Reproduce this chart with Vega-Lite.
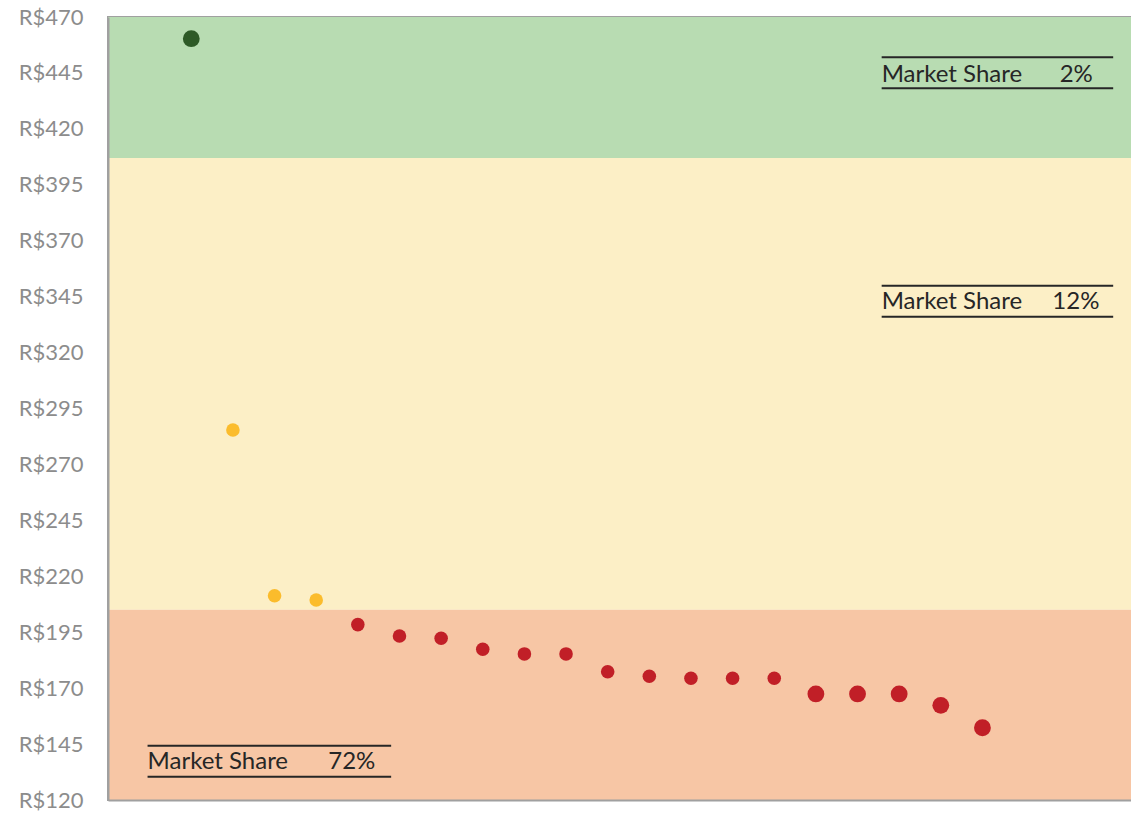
{
  "$schema": "https://vega.github.io/schema/vega-lite/v6.json",
  "width": 1041,
  "height": 783,
  "autosize": {"type": "none"},
  "padding": {"left": 108, "top": 17, "right": 0, "bottom": 13},
  "background": "white",
  "config": {
    "view": {"stroke": "#a0a0a0", "strokeWidth": 2},
    "axisY": {"grid": false, "ticks": false, "tickSize": 0, "domain": true, "domainColor": "#a0a0a0", "domainWidth": 2, "labelFont": "Lato", "labelFontSize": 22, "labelColor": "#8c8c8c", "labelPadding": 25},
    "axisX": {"grid": false, "ticks": false, "tickSize": 0, "labels": false, "domain": true, "domainColor": "#a0a0a0", "domainWidth": 2}
  },
  "datasets": {
    "faixas": [
      {"faixa": "alta", "de": 407, "ate": 470},
      {"faixa": "media", "de": 205, "ate": 407},
      {"faixa": "baixa", "de": 120, "ate": 205}
    ],
    "precos": [
      {"produto": 1, "preco": 460.3, "faixa": "alta", "porte": "grande"},
      {"produto": 2, "preco": 285.4, "faixa": "media", "porte": "normal"},
      {"produto": 3, "preco": 211.3, "faixa": "media", "porte": "normal"},
      {"produto": 4, "preco": 209.4, "faixa": "media", "porte": "normal"},
      {"produto": 5, "preco": 198.4, "faixa": "baixa", "porte": "normal"},
      {"produto": 6, "preco": 193.3, "faixa": "baixa", "porte": "normal"},
      {"produto": 7, "preco": 192.3, "faixa": "baixa", "porte": "normal"},
      {"produto": 8, "preco": 187.4, "faixa": "baixa", "porte": "normal"},
      {"produto": 9, "preco": 185.3, "faixa": "baixa", "porte": "normal"},
      {"produto": 10, "preco": 185.3, "faixa": "baixa", "porte": "normal"},
      {"produto": 11, "preco": 177.3, "faixa": "baixa", "porte": "normal"},
      {"produto": 12, "preco": 175.3, "faixa": "baixa", "porte": "normal"},
      {"produto": 13, "preco": 174.4, "faixa": "baixa", "porte": "normal"},
      {"produto": 14, "preco": 174.4, "faixa": "baixa", "porte": "normal"},
      {"produto": 15, "preco": 174.4, "faixa": "baixa", "porte": "normal"},
      {"produto": 16, "preco": 167.4, "faixa": "baixa", "porte": "grande"},
      {"produto": 17, "preco": 167.4, "faixa": "baixa", "porte": "grande"},
      {"produto": 18, "preco": 167.4, "faixa": "baixa", "porte": "grande"},
      {"produto": 19, "preco": 162.3, "faixa": "baixa", "porte": "grande"},
      {"produto": 20, "preco": 152.3, "faixa": "baixa", "porte": "grande"}
    ],
    "notas": [
      {"rotulo": "Market Share", "share": "2%", "x0": 17.58, "x1": 23.14, "xs": 22.65, "ytop": 452.0, "ybot": 438.1, "ytxt": 440.9},
      {"rotulo": "Market Share", "share": "12%", "x0": 17.58, "x1": 23.14, "xs": 22.81, "ytop": 349.9, "ybot": 336.0, "ytxt": 339.3},
      {"rotulo": "Market Share", "share": "72%", "x0": -0.05, "x1": 5.8, "xs": 5.42, "ytop": 144.3, "ybot": 130.4, "ytxt": 133.7}
    ]
  },
  "resolve": {"scale": {"color": "independent", "size": "independent"}},
  "layer": [
    {
      "data": {"name": "faixas"},
      "mark": {"type": "rect"},
      "encoding": {
        "y": {"field": "de", "type": "quantitative", "title": null, "scale": {"domain": [120, 470], "nice": false, "zero": false},
              "axis": {"zindex": 2, "values": [120, 145, 170, 195, 220, 245, 270, 295, 320, 345, 370, 395, 420, 445, 470], "labelExpr": "'R$' + datum.value"}},
        "y2": {"field": "ate"},
        "color": {"field": "faixa", "type": "nominal", "legend": null,
                  "scale": {"domain": ["alta", "media", "baixa"], "range": ["#b8dcb2", "#fcefc6", "#f7c6a5"]}}
      }
    },
    {
      "data": {"name": "precos"},
      "mark": {"type": "circle", "opacity": 1},
      "encoding": {
        "x": {"field": "produto", "type": "quantitative", "title": null, "scale": {"domain": [-1, 24], "nice": false, "zero": false}, "axis": {"zindex": 2}},
        "y": {"field": "preco", "type": "quantitative", "title": null, "scale": {"domain": [120, 470], "nice": false, "zero": false}},
        "color": {"field": "faixa", "type": "nominal", "legend": null,
                  "scale": {"domain": ["alta", "media", "baixa"], "range": ["#2e5a27", "#fbbc2c", "#c11f27"]}},
        "size": {"field": "porte", "type": "nominal", "legend": null,
                 "scale": {"domain": ["normal", "grande"], "range": [184, 283]}}
      }
    },
    {
      "data": {"name": "notas"},
      "mark": {"type": "rule", "color": "#262626", "strokeWidth": 2},
      "encoding": {
        "x": {"field": "x0", "type": "quantitative", "title": null, "scale": {"domain": [-1, 24], "nice": false, "zero": false}},
        "x2": {"field": "x1"},
        "y": {"field": "ytop", "type": "quantitative", "title": null, "scale": {"domain": [120, 470], "nice": false, "zero": false}}
      }
    },
    {
      "data": {"name": "notas"},
      "mark": {"type": "rule", "color": "#262626", "strokeWidth": 2},
      "encoding": {
        "x": {"field": "x0", "type": "quantitative", "title": null, "scale": {"domain": [-1, 24], "nice": false, "zero": false}},
        "x2": {"field": "x1"},
        "y": {"field": "ybot", "type": "quantitative", "title": null, "scale": {"domain": [120, 470], "nice": false, "zero": false}}
      }
    },
    {
      "data": {"name": "notas"},
      "mark": {"type": "text", "align": "left", "baseline": "alphabetic", "font": "Lato", "fontSize": 24, "color": "#262626"},
      "encoding": {
        "x": {"field": "x0", "type": "quantitative", "title": null, "scale": {"domain": [-1, 24], "nice": false, "zero": false}},
        "y": {"field": "ytxt", "type": "quantitative", "title": null, "scale": {"domain": [120, 470], "nice": false, "zero": false}},
        "text": {"field": "rotulo"}
      }
    },
    {
      "data": {"name": "notas"},
      "mark": {"type": "text", "align": "right", "baseline": "alphabetic", "font": "Lato", "fontSize": 24, "color": "#262626"},
      "encoding": {
        "x": {"field": "xs", "type": "quantitative", "title": null, "scale": {"domain": [-1, 24], "nice": false, "zero": false}},
        "y": {"field": "ytxt", "type": "quantitative", "title": null, "scale": {"domain": [120, 470], "nice": false, "zero": false}},
        "text": {"field": "share"}
      }
    }
  ]
}
